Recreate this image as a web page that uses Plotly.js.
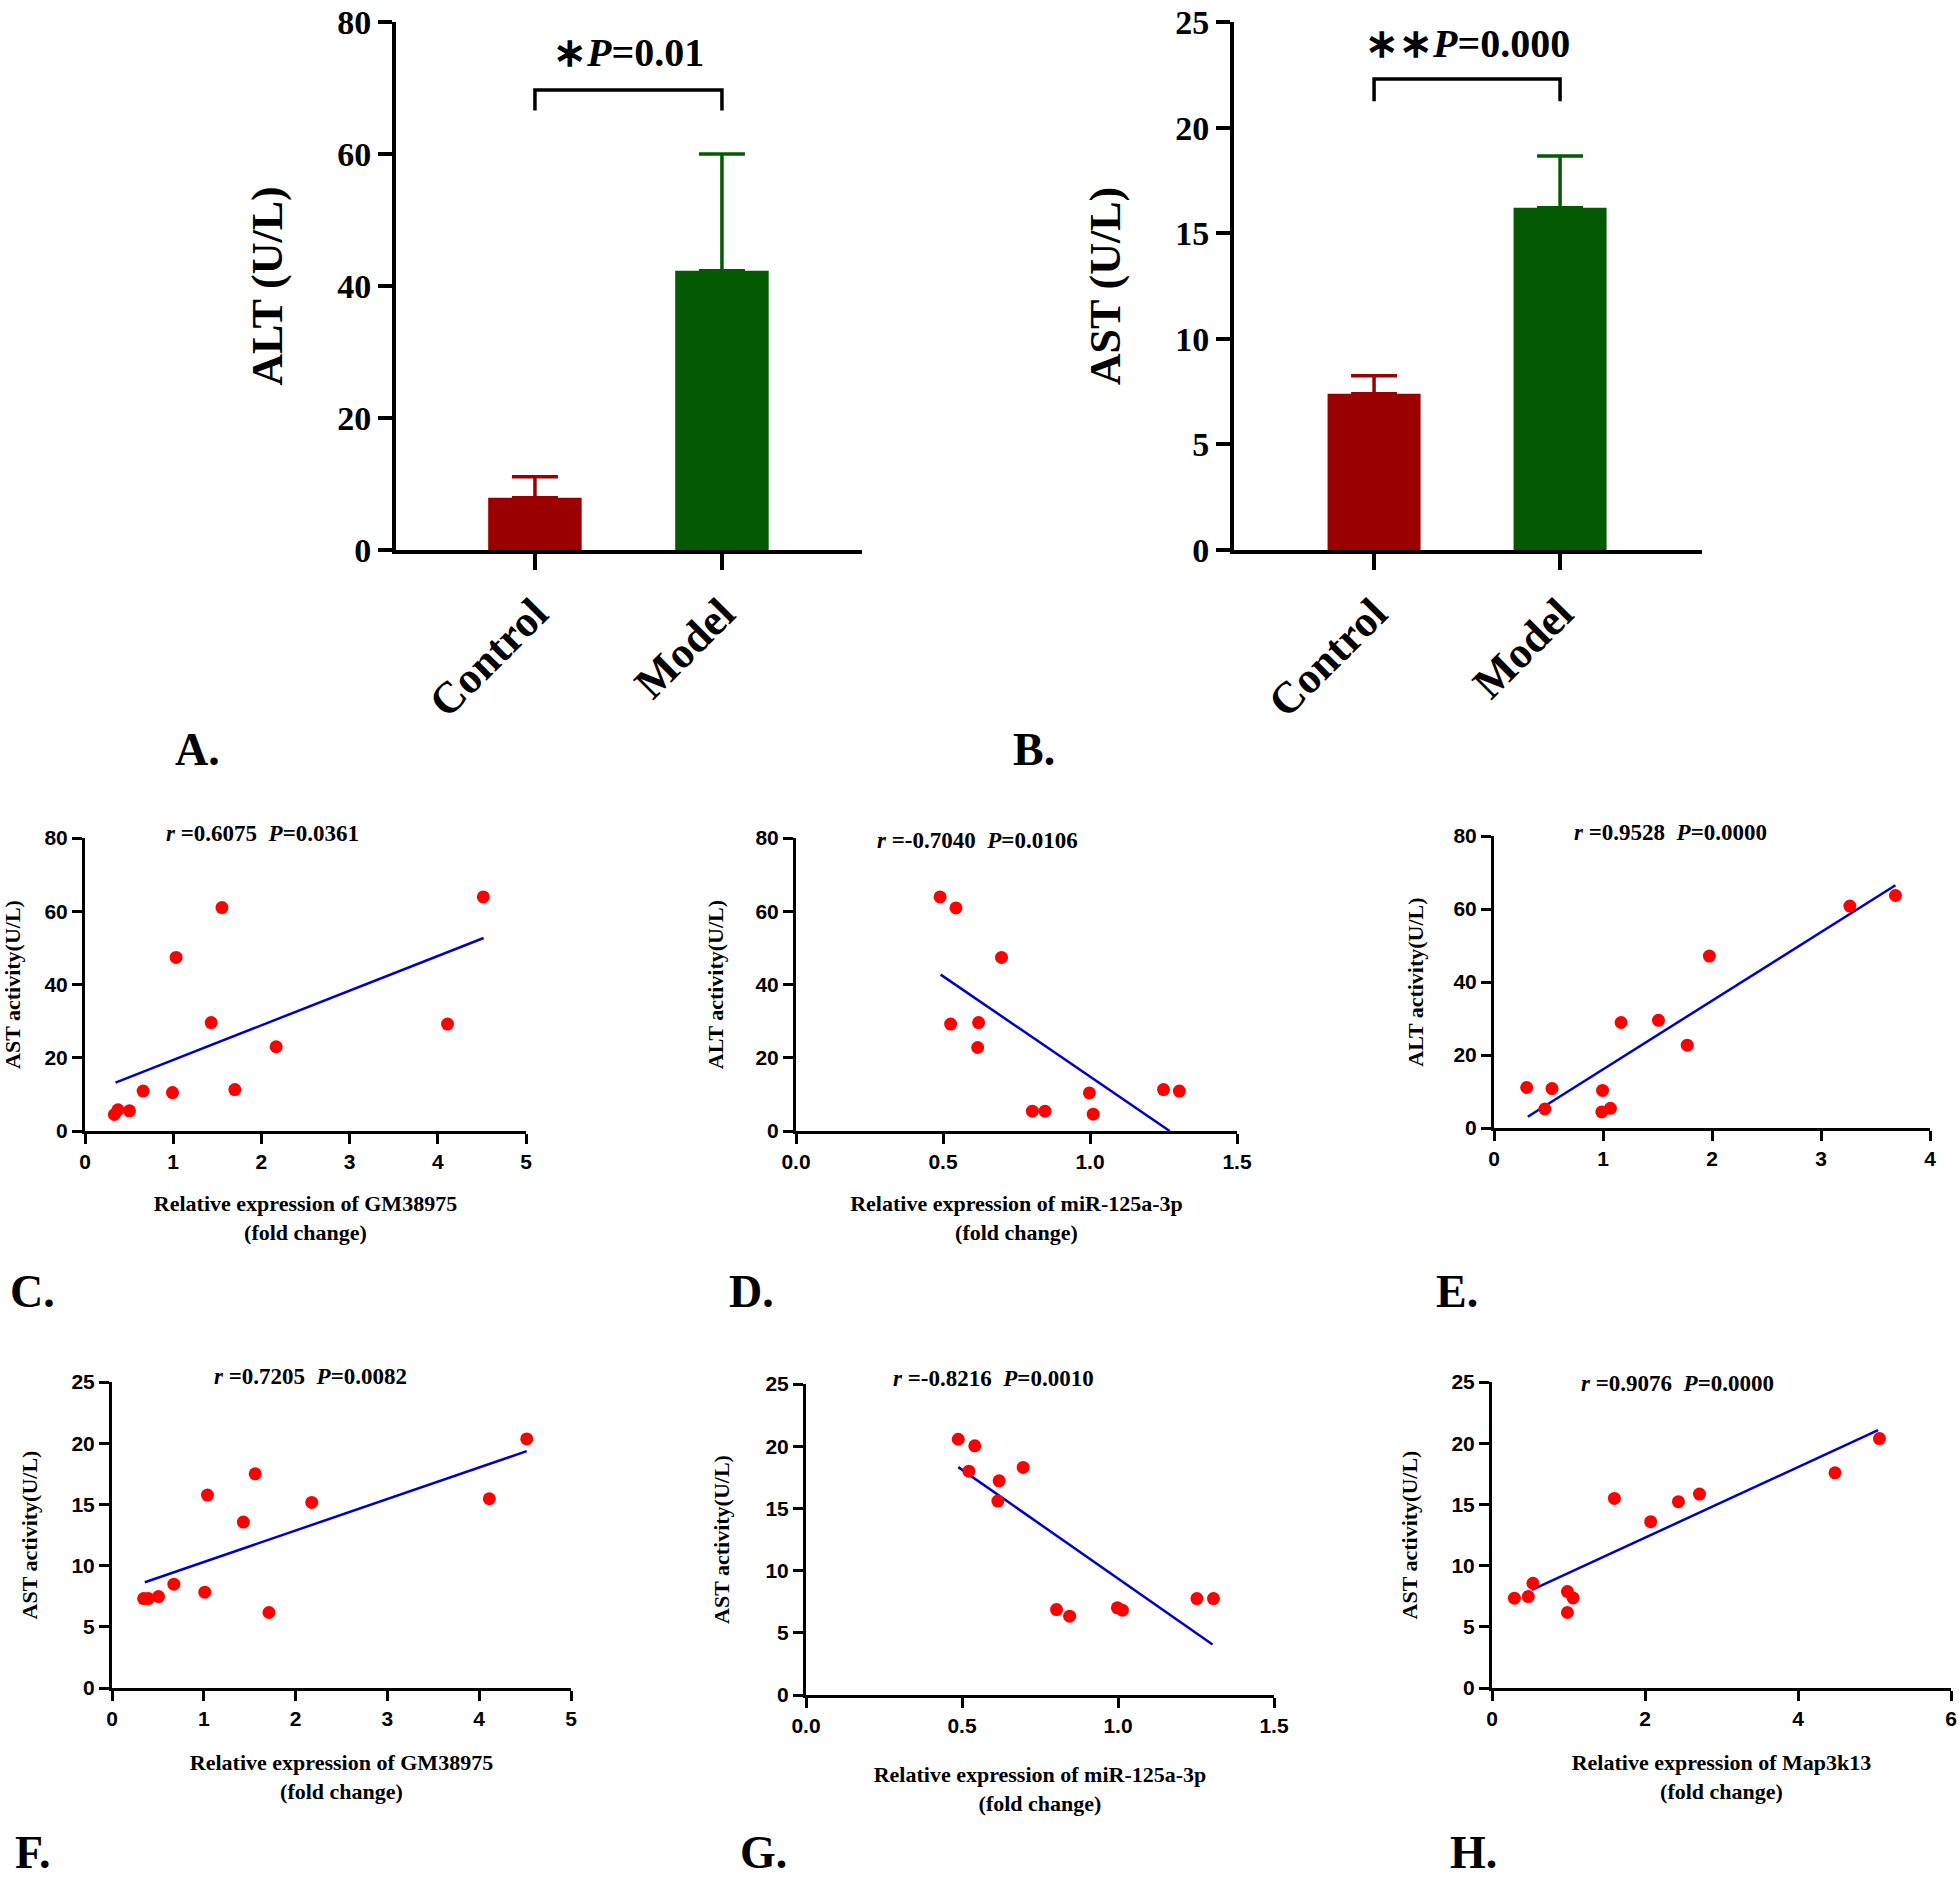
<!DOCTYPE html>
<html><head><meta charset="utf-8">
<script src="https://cdn.plot.ly/plotly-3.0.1.min.js"></script>
<style>html,body{margin:0;padding:0;background:#fff}#chart{width:1959px;height:1882px}</style>
</head><body><div id="chart"></div>
<script>
// ---------- data ----------
const groups = ['Control', 'Model'];
const altMean = [7.9, 42.3];
const altSD = [3.2, 17.7];
const astMean = [7.4, 16.2];
const astSD = [0.85, 2.45];
const altBracket = [66.6, 69.7];
const astBracket = [21.25, 22.3];
const altSigText = '∗<i>P</i>=0.01';
const astSigText = '∗∗<i>P</i>=0.000';

// C: GM38975 vs ALT
const cX = [0.333, 0.374, 0.504, 0.659, 0.992, 1.033, 1.431, 1.553, 1.699, 2.167, 4.11, 4.516];
const cY = [4.5, 5.8, 5.5, 10.9, 10.5, 47.4, 29.6, 61.0, 11.3, 23.0, 29.2, 63.9];
const cFitX = [0.346, 4.52];
const cFitY = [13.2, 52.7];
// D: miR-125a-3p vs ALT
const dX = [0.490, 0.544, 0.699, 0.526, 0.621, 0.618, 0.804, 0.847, 0.998, 1.011, 1.250, 1.304];
const dY = [63.9, 60.9, 47.4, 29.2, 29.6, 22.8, 5.4, 5.4, 10.4, 4.6, 11.3, 10.9];
const dFitX = [0.492, 1.271];
const dFitY = [42.7, 0];
// E: Map3k13 vs ALT
const eX = [0.300, 0.467, 0.532, 0.996, 0.989, 1.068, 1.166, 1.509, 1.773, 1.976, 3.265, 3.683];
const eY = [11.1, 5.2, 10.8, 10.3, 4.4, 5.4, 28.9, 29.5, 22.7, 47.1, 60.8, 63.7];
const eFitX = [0.31, 3.683];
const eFitY = [3.1, 66.5];
// F: GM38975 vs AST
const fX = [0.345, 0.395, 0.507, 0.674, 1.011, 1.040, 1.431, 1.560, 1.710, 2.176, 4.110, 4.518];
const fY = [7.31, 7.31, 7.47, 8.48, 7.83, 15.76, 13.56, 17.5, 6.17, 15.16, 15.46, 20.35];
const fFitX = [0.358, 4.518];
const fFitY = [8.64, 19.35];
// G: miR-125a-3p vs AST
const gX = [0.488, 0.541, 0.522, 0.696, 0.619, 0.615, 0.803, 0.845, 0.998, 1.014, 1.253, 1.306];
const gY = [20.56, 20.03, 17.99, 18.29, 17.22, 15.59, 6.87, 6.34, 7.01, 6.82, 7.75, 7.75];
const gFitX = [0.488, 1.303];
const gFitY = [18.32, 4.06];
// H: Map3k13 vs AST
const hX = [0.293, 0.474, 0.535, 0.986, 0.986, 1.060, 1.600, 2.074, 2.437, 2.712, 4.484, 5.065];
const hY = [7.34, 7.47, 8.56, 7.88, 6.17, 7.36, 15.49, 13.59, 15.22, 15.84, 17.58, 20.38];
const hFitX = [0.521, 5.047];
const hFitY = [8.02, 21.06];

const statTexts = {
  C: '<i>r</i> =0.6075\u00a0\u00a0<i>P</i>=0.0361',
  D: '<i>r</i> =-0.7040\u00a0\u00a0<i>P</i>=0.0106',
  E: '<i>r</i> =0.9528\u00a0\u00a0<i>P</i>=0.0000',
  F: '<i>r</i> =0.7205\u00a0\u00a0<i>P</i>=0.0082',
  G: '<i>r</i> =-0.8216\u00a0\u00a0<i>P</i>=0.0010',
  H: '<i>r</i> =0.9076\u00a0\u00a0<i>P</i>=0.0000'
};

// ---------- styles ----------
const W = 1959, H = 1882;
const SERIF = 'Liberation Serif, Times New Roman, serif';
const SANS = 'Liberation Sans, Arial, sans-serif';
const barColors = ['#9b0000', '#035a03'];
const dotColor = '#ff0000';
const fitColor = '#0000c8';
function dx(a, b) { return [a / W, b / W]; }
function dy(top, bottom) { return [1 - bottom / H, 1 - top / H]; }

const traces = [];
function addBars(xa, ya, means, sds) {
  groups.forEach((g, i) => {
    traces.push({
      type: 'bar', x: [g], y: [means[i]], width: 0.5, xaxis: xa, yaxis: ya,
      marker: { color: barColors[i], line: { width: 0 } },
      error_y: { type: 'data', symmetric: false, array: [sds[i]], arrayminus: [0],
                 color: barColors[i], thickness: 3.5, width: 23 },
      hoverinfo: 'skip'
    });
  });
}
function addBracket(xa, ya, lv) {
  traces.push({
    type: 'scatter', mode: 'lines', xaxis: xa, yaxis: ya,
    x: [groups[0], groups[0], groups[1], groups[1]],
    y: [lv[0], lv[1], lv[1], lv[0]],
    line: { color: '#000', width: 3.5 }, cliponaxis: false, hoverinfo: 'skip'
  });
}
addBars('x', 'y', altMean, altSD);
addBracket('x', 'y', altBracket);
addBars('x2', 'y2', astMean, astSD);
addBracket('x2', 'y2', astBracket);

function addScatter(n, xs, ys, fx, fy) {
  const xa = 'x' + n, ya = 'y' + n;
  traces.push({ type: 'scatter', mode: 'lines', x: fx, y: fy, xaxis: xa, yaxis: ya,
    line: { color: fitColor, width: 2.5 }, cliponaxis: false, hoverinfo: 'skip' });
  traces.push({ type: 'scatter', mode: 'markers', x: xs, y: ys, xaxis: xa, yaxis: ya,
    marker: { color: dotColor, size: 13 }, cliponaxis: false });
}
addScatter(3, cX, cY, cFitX, cFitY);
addScatter(4, dX, dY, dFitX, dFitY);
addScatter(5, eX, eY, eFitX, eFitY);
addScatter(6, fX, fY, fFitX, fFitY);
addScatter(7, gX, gY, gFitX, gFitY);
addScatter(8, hX, hY, hFitX, hFitY);

function barX(dom, rng, anchor) {
  return { domain: dom, range: rng, type: 'category', anchor: anchor,
    showline: true, linewidth: 4, linecolor: '#000', mirror: false,
    ticks: 'outside', ticklen: 16, tickwidth: 4, tickcolor: '#000', tickangle: -45,
    tickfont: { family: SERIF, size: 44, weight: 'bold', color: '#000' },
    ticklabeloverflow: 'allow', showgrid: false, zeroline: false };
}
function barY(dom, rng, dt, title, anchor) {
  return { domain: dom, range: rng, dtick: dt, anchor: anchor,
    showline: true, linewidth: 4, linecolor: '#000',
    ticks: 'outside', ticklen: 14, tickwidth: 4, tickcolor: '#000',
    tickfont: { family: SERIF, size: 34, weight: 'bold', color: '#000' },
    ticklabeloverflow: 'allow',
    title: { text: title, font: { family: SERIF, size: 44, weight: 'bold', color: '#000' }, standoff: 42 },
    showgrid: false, zeroline: false };
}
function scX(dom, rng, dt, fmt, title, anchor, so) {
  return { domain: dom, range: rng, dtick: dt, tick0: 0, tickformat: fmt, anchor: anchor,
    showline: true, linewidth: 3, linecolor: '#000',
    ticks: 'outside', ticklen: 10, tickwidth: 3, tickcolor: '#000',
    tickfont: { family: SANS, size: 21, weight: 'bold', color: '#000' },
    ticklabeloverflow: 'allow',
    title: { text: title, font: { family: SERIF, size: 22, weight: 'bold', color: '#000' }, standoff: so },
    showgrid: false, zeroline: false };
}
function scY(dom, rng, dt, title, anchor, so) {
  return { domain: dom, range: rng, dtick: dt, tick0: 0, anchor: anchor,
    showline: true, linewidth: 3, linecolor: '#000',
    ticks: 'outside', ticklen: 10, tickwidth: 3, tickcolor: '#000',
    tickfont: { family: SANS, size: 21, weight: 'bold', color: '#000' },
    ticklabeloverflow: 'allow',
    title: { text: title, font: { family: SERIF, size: 22, weight: 'bold', color: '#000' }, standoff: so },
    showgrid: false, zeroline: false };
}

const rowC = dy(838, 1131), rowE = dy(836, 1128);
const rowF = dy(1382, 1688), rowG = dy(1384, 1695);
const topRow = dy(22, 550);
const layout = {
  width: W, height: H, margin: { l: 0, r: 0, t: 0, b: 0 },
  paper_bgcolor: '#fff', plot_bgcolor: 'rgba(0,0,0,0)',
  showlegend: false, barmode: 'overlay',
  xaxis: barX(dx(396, 862), [-0.743, 1.749], 'y'),
  yaxis: barY(topRow, [0, 80], 20, 'ALT (U/L)', 'x'),
  xaxis2: barX(dx(1234, 1702), [-0.753, 1.763], 'y2'),
  yaxis2: barY(topRow, [0, 25], 5, 'AST (U/L)', 'x2'),
  xaxis3: scX(dx(85, 526), [0, 5], 1, '', 'Relative expression of GM38975<br>(fold change)', 'y3', 24),
  yaxis3: scY(rowC, [0, 80], 20, 'AST activity(U/L)', 'x3', 20),
  xaxis4: scX(dx(796, 1237), [0, 1.5], 0.5, '.1f', 'Relative expression of miR-125a-3p<br>(fold change)', 'y4', 24),
  yaxis4: scY(rowC, [0, 80], 20, 'ALT activity(U/L)', 'x4', 26),
  xaxis5: scX(dx(1494, 1930), [0, 4], 1, '', '', 'y5', 22),
  yaxis5: scY(rowE, [0, 80], 20, 'ALT activity(U/L)', 'x5', 24),
  xaxis6: scX(dx(112, 571), [0, 5], 1, '', 'Relative expression of GM38975<br>(fold change)', 'y6', 26),
  yaxis6: scY(rowF, [0, 25], 5, 'AST activity(U/L)', 'x6', 28),
  xaxis7: scX(dx(806, 1274), [0, 1.5], 0.5, '.1f', 'Relative expression of miR-125a-3p<br>(fold change)', 'y7', 31),
  yaxis7: scY(rowG, [0, 25], 5, 'AST activity(U/L)', 'x7', 30),
  xaxis8: scX(dx(1492, 1951), [0, 6], 2, '', 'Relative expression of Map3k13<br>(fold change)', 'y8', 26),
  yaxis8: scY(rowF, [0, 25], 5, 'AST activity(U/L)', 'x8', 28),
  annotations: []
};

// significance labels
layout.annotations.push({ xref: 'x', yref: 'y', x: 0.5, y: 75.4, text: '<b>' + altSigText + '</b>',
  showarrow: false, font: { family: SERIF, size: 40, color: '#000' } });
layout.annotations.push({ xref: 'x2', yref: 'y2', x: 0.5, y: 24.0, text: '<b>' + astSigText + '</b>',
  showarrow: false, font: { family: SERIF, size: 40, color: '#000' } });

// stat titles on scatter plots
const statPos = { C: [262, 833], D: [977, 840], E: [1670, 832], F: [310, 1376], G: [993, 1378], H: [1677, 1383] };
Object.keys(statPos).forEach(k => {
  layout.annotations.push({ xref: 'paper', yref: 'paper', x: statPos[k][0] / W, y: 1 - statPos[k][1] / H,
    text: '<b>' + statTexts[k] + '</b>', showarrow: false, xanchor: 'center', yanchor: 'middle',
    font: { family: SERIF, size: 23, color: '#000' } });
});

// panel letters
const letters = { 'A.': [197, 749], 'B.': [1034, 749], 'C.': [32, 1291], 'D.': [751, 1291],
  'E.': [1457, 1291], 'F.': [32, 1852], 'G.': [763, 1852], 'H.': [1473, 1852] };
Object.keys(letters).forEach(k => {
  layout.annotations.push({ xref: 'paper', yref: 'paper', x: letters[k][0] / W, y: 1 - letters[k][1] / H,
    text: '<b>' + k + '</b>', showarrow: false, xanchor: 'center', yanchor: 'middle',
    font: { family: SERIF, size: 46, color: '#000' } });
});

Plotly.newPlot('chart', traces, layout, { staticPlot: true });
</script></body></html>
